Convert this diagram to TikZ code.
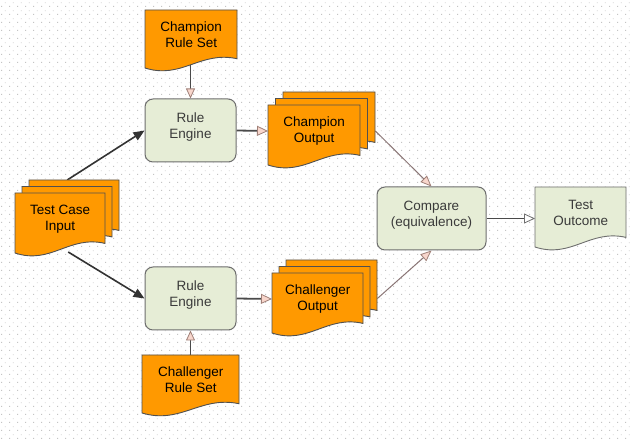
\documentclass[tikz,border=0pt]{standalone}
\usepackage{fontspec}
\setmainfont{Liberation Sans}
\usetikzlibrary{arrows.meta,calc,patterns.meta}
\definecolor{orangefill}{HTML}{FF9900}
\definecolor{greenfill}{HTML}{E6EDD6}
\definecolor{docline}{HTML}{505050}
\definecolor{boxline}{HTML}{6E6E6E}
\definecolor{dotgray}{HTML}{C4C4C4}
\definecolor{pinkfill}{HTML}{F8D6CC}
\definecolor{pinkline}{HTML}{A08078}
\definecolor{darkline}{HTML}{333333}
\definecolor{midline}{HTML}{4A4A4A}
\definecolor{brownline}{HTML}{8A7676}
\definecolor{greentext}{HTML}{3A3A3A}
\pgfdeclarelayer{gridlayer}
\pgfdeclarelayer{linklayer}
\pgfsetlayers{gridlayer,linklayer,main}
\tikzdeclarepattern{
  name=gridots,
  type=uncolored,
  bounding box={(0pt,0pt) and (8pt,8pt)},
  tile size={(8pt,8pt)},
  code={\pgfpathrectangle{\pgfpoint{2.5pt}{2.5pt}}{\pgfpoint{1pt}{1pt}}%
        \pgfpathrectangle{\pgfpoint{6.5pt}{6.5pt}}{\pgfpoint{1pt}{1pt}}%
        \pgfusepath{fill}}
}
\tikzset{
  orangedoc/.style={fill=orangefill, draw=docline, line width=0.9pt},
  greendoc/.style={fill=greenfill, draw=boxline, line width=0.9pt},
  blacktext/.style={text=black},
  greytext/.style={text=greentext},
  doctext/.style={rectangle, inner sep=0pt, align=center, font=\fontsize{13.5}{16}\selectfont},
  engine/.style={rectangle, rounded corners=8pt, fill=greenfill, draw=boxline, line width=1pt, minimum width=91pt, minimum height=63pt, inner sep=0pt},
  gtext/.style={align=center, text=greentext, inner sep=0pt, font=\fontsize{13.5}{16}\selectfont},
  feed/.style={draw=darkline, line width=1.6pt, -{Triangle[length=11pt,width=9pt]}},
  engout/.style={draw=midline, line width=1.8pt, -{Triangle[length=11pt,width=10pt,fill=pinkfill,color=pinkline,line width=0.8pt]}},
  ruleset/.style={draw=midline, line width=1.6pt, -{Triangle[length=10pt,width=9pt,fill=pinkfill,color=pinkline,line width=0.8pt]}},
  tocmp/.style={draw=brownline, line width=1pt, -{Triangle[length=11pt,width=9pt,fill=pinkfill,color=pinkline,line width=0.8pt]}},
  result/.style={draw=midline, line width=1.8pt, -{Triangle[length=11pt,width=10pt,fill=white,color=boxline,line width=0.8pt]}}
}
% name, x, y, W, H, shape style, text style, text
\newcommand{\docnode}[8]{%
  \filldraw[#6] (#2,#3) -- (#2+#4,#3) -- (#2+#4,#3+0.84*#5)
    .. controls (#2+0.6*#4,#3+0.7*#5) and (#2+0.4*#4,#3+1.2*#5) .. (#2,#3+#5) -- cycle;
  \node[doctext,#7, minimum width=#4pt, minimum height={0.86*#5pt}, anchor=north west] (#1) at (#2,#3) {#8};
}
\begin{document}
\begin{tikzpicture}[x=1pt,y=-1pt]
\useasboundingbox (0,0) rectangle (633,441);
\begin{pgfonlayer}{gridlayer}
  \fill[white] (0,0) rectangle (633,441);
  \fill[pattern=gridots, pattern color=dotgray] (0,0) rectangle (633,441);
\end{pgfonlayer}

% Champion rule set
\docnode{crs}{145}{10}{92}{58}{orangedoc}{blacktext}{Champion\\Rule Set}
% Test case input stack
\docnode{tci3}{29}{180}{90}{60}{orangedoc}{blacktext}{}
\docnode{tci2}{22}{186.5}{90}{60}{orangedoc}{blacktext}{}
\docnode{tci1}{15}{193}{90}{60}{orangedoc}{blacktext}{Test Case\\Input}
% Rule engines
\node[engine] (re1) at (190.5,130.5) {};
\node[gtext] (re1t) at ([yshift=3.5pt]re1.center) {Rule\\Engine};
\node[engine] (re2) at (190.5,298.5) {};
\node[gtext] (re2t) at ([yshift=3.5pt]re2.center) {Rule\\Engine};
% Champion output stack
\docnode{cro3}{283}{92}{92}{60}{orangedoc}{blacktext}{}
\docnode{cro2}{275.5}{98.5}{92}{60}{orangedoc}{blacktext}{}
\docnode{cro1}{268}{105}{92}{60}{orangedoc}{blacktext}{Champion\\Output}
% Challenger output stack
\docnode{chal3}{286}{260}{91}{60}{orangedoc}{blacktext}{}
\docnode{chal2}{279}{266.5}{91}{60}{orangedoc}{blacktext}{}
\docnode{chal1}{272}{273}{91}{60}{orangedoc}{blacktext}{Challenger\\Output}
% Challenger rule set
\docnode{chrs}{142}{355}{97}{58}{orangedoc}{blacktext}{Challenger\\Rule Set}
% Compare
\node[engine, minimum width=109pt] (cmp) at (431.5,218.5) {};
\node[gtext] (cmpt) at ([yshift=3.5pt]cmp.center) {Compare\\(equivalence)};
% Test outcome
\docnode{to}{535}{187}{91}{60}{greendoc}{greytext}{Test\\Outcome}

\begin{pgfonlayer}{linklayer}
  \draw[feed] ([xshift=-7pt]tci3.north) -- (re1.west);
  \draw[feed] ([xshift=8pt,yshift=-7pt]tci1.south) -- (re2.west);
  \draw[engout] (re1.east) -- (cro1.west);
  \draw[engout] (re2.east) -- (chal1.west);
  \draw[ruleset] (crs.south -| re1.north) -- (re1.north);
  \draw[ruleset] (chrs.north -| re2.south) -- (re2.south);
  \draw[tocmp] ($(cro3.north east)!0.75!(cro3.south east)$) -- (cmp.north);
  \draw[tocmp] ($(chal3.north east)!0.74!(chal3.south east)$) -- (cmp.south);
  \draw[result] (cmp.east) -- (cmp.east -| to.west);
\end{pgfonlayer}
\end{tikzpicture}
\end{document}
